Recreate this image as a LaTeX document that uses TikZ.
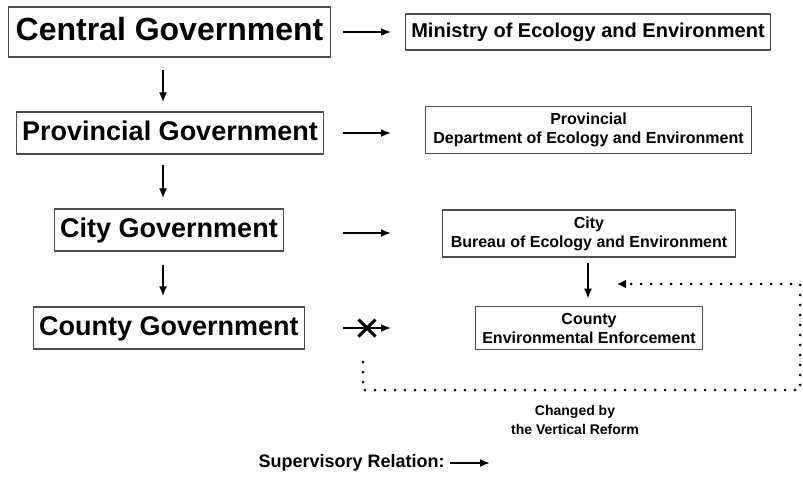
\documentclass[tikz,border=0pt]{standalone}
\usepackage{fontspec}
\setmainfont{Liberation Sans}
\usetikzlibrary{arrows.meta,shapes.misc}

\tikzset{every picture/.style={line width=0.75pt}}
\tikzset{
  govbox/.style={draw=black!70, line width=1.3pt, inner xsep=6pt, inner ysep=8pt,
    text height=20pt, text depth=6pt, font=\fontsize{27}{30}\selectfont\bfseries},
  topbox/.style={govbox, inner xsep=7.5pt, inner ysep=9.5pt, text height=24pt, text depth=7pt,
    font=\fontsize{32}{36}\selectfont\bfseries},
  agencybox/.style={draw=black!70, line width=1.3pt, inner xsep=8pt, inner ysep=6.5pt, align=center,
    font=\fontsize{16}{19}\selectfont\bfseries},
  suparrow/.style={-{Latex[length=10pt,width=8pt]}, line width=1.8pt},
  reform/.style={line width=3pt, line cap=round, dash pattern=on 0pt off 10pt,
    -{Latex[length=9pt,width=9pt]}}
}

\begin{document}
\begin{tikzpicture}[x=1pt,y=1pt,yscale=-1,xscale=1]
    \useasboundingbox (0,0) rectangle (803,496);

    %Government side
    \node[topbox] (central) at (169.5,32) {Central Government};
    \node[govbox] (prov) at (170,133) {Provincial Government};
    \node[govbox] (city) at (169,230) {City Government};
    \node[govbox] (county) at (169,328) {County Government};

    %Environment agencies
    \node[agencybox, inner xsep=6pt, inner ysep=8pt, text height=15pt, text depth=5pt,
      font=\fontsize{20}{24}\selectfont\bfseries] (ministry) at (588,32) {Ministry of Ecology and Environment};
    \node[agencybox] (dept) at (588.5,130) {Provincial\\Department of Ecology and Environment};
    \node[agencybox] (bureau) at (589,233.5) {City\\Bureau of Ecology and Environment};
    \node[agencybox, inner xsep=6.5pt] (enforce) at (589,328) {County\\Environmental Enforcement};

    %columns for the arrows
    \coordinate (supL) at (343,0);
    \coordinate (supR) at (391,0);
    \coordinate (vcol) at (163,0);

    %Horizontal supervision
    \draw[suparrow] (central.east -| supL) -- (central.east -| supR);
    \draw[suparrow] (prov.east -| supL) -- (prov.east -| supR);
    \draw[suparrow] ([yshift=3]city.east -| supL) -- ([yshift=3]city.east -| supR);
    \draw[suparrow] (county.east -| supL) -- (county.east -| supR)
      node[pos=0.5, cross out, draw, line width=3pt, minimum size=14pt, inner sep=0pt] (cut) {};

    %Vertical supervision
    \draw[suparrow, shorten <=12pt, shorten >=9pt] (central.south -| vcol) -- (prov.north -| vcol);
    \draw[suparrow, shorten <=10pt, shorten >=10pt] (prov.south -| vcol) -- (city.north -| vcol);
    \draw[suparrow, shorten <=13pt, shorten >=10pt] (city.south -| vcol) -- (county.north -| vcol);
    \draw[suparrow, shorten <=5pt, shorten >=7pt] ([xshift=-1]bureau.south) -- ([xshift=-1]enforce.north);

    %Dotted reform path
    \coordinate (rfA) at (363,362);
    \coordinate (rfB) at (800,390);
    \coordinate (rfC) at (617,284);
    \draw[reform] (rfA) |- (rfB) |- (rfC);

    % Text Node
    \node[align=center, font=\fontsize{14}{19}\selectfont\bfseries] (changed) at (575,420) {Changed by\\the Vertical Reform};

    %Legend
    \node[anchor=east, inner sep=0pt, font=\fontsize{18}{21}\selectfont\bfseries] (legend) at (445,463) {Supervisory Relation:};
    \coordinate (legendtip) at (490,463);
    \draw[suparrow, shorten <=5pt] (legend.east) -- (legendtip);

\end{tikzpicture}
\end{document}
